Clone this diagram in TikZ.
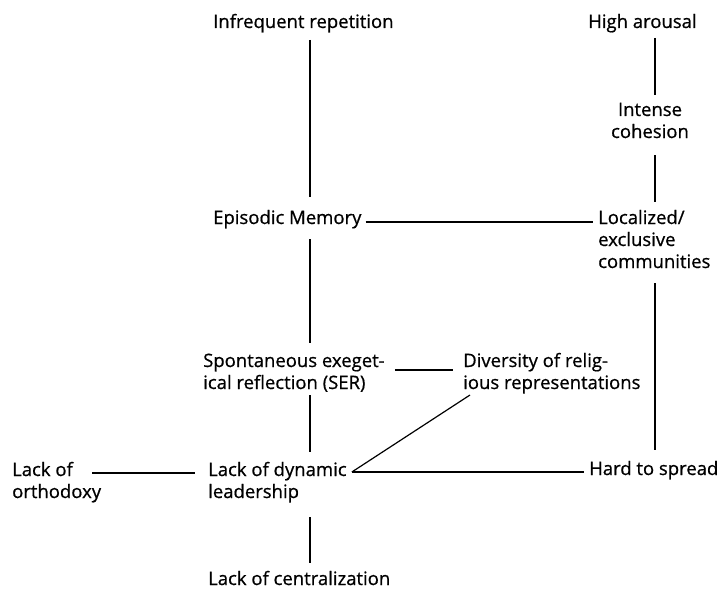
\documentclass[tikz,border=0pt]{standalone}
\usepackage{fontspec}
\setmainfont{Open Sans}[FakeBold=0.7]
\begin{document}
\begin{tikzpicture}[x=1pt,y=-1pt,
  lbl/.style={anchor=base west,align=left,inner sep=0pt,font=\fontsize{18.5}{22}\selectfont},
  conn/.style={line width=1.2pt,line cap=butt}]
\useasboundingbox (0,0) rectangle (719,591);
\node[lbl] (inf) at (213,28) {Infrequent repetition};
\node[lbl] (high) at (588,28) {High arousal};
\node[lbl,align=center,anchor=base] (coh) at (650,138) {Intense\\cohesion};
\node[lbl] (epi) at (213,224) {Episodic Memory};
\node[lbl] (loc) at (598,268) {Localized/\\exclusive\\communities};
\node[lbl] (ser) at (203,389) {Spontaneous exeget-\\ical reflection (SER)};
\node[lbl] (div) at (463,389) {Diversity of relig-\\ious representations};
\node[lbl] (orth) at (12,498) {Lack of\\orthodoxy};
\node[lbl] (lead) at (208,498) {Lack of dynamic\\leadership};
\node[lbl] (hard) at (589,475) {Hard to spread};
\node[lbl] (cent) at (208,585) {Lack of centralization};
\coordinate (lx) at (310,0);
\coordinate (rx) at (655,0);
% left column
\draw[conn,shorten <=12pt,shorten >=27pt] (lx |- inf.base) -- (lx |- epi.base);
\draw[conn,shorten <=15pt,shorten >=46pt] (lx |- epi.base) -- (lx |- ser.base);
\draw[conn,shorten <=6pt,shorten >=46pt] (lx |- ser.base) -- (lx |- lead.base);
\draw[conn,shorten <=19pt,shorten >=22pt] (lx |- lead.base) -- (lx |- cent.base);
% right column
\draw[conn,shorten <=10pt,shorten >=43pt] (rx |- high.base) -- (rx |- coh.base);
\draw[conn,shorten <=17pt,shorten >=66pt] (rx |- coh.base) -- (rx |- loc.base);
\draw[conn,shorten <=15pt,shorten >=25pt] (rx |- loc.base) -- (rx |- hard.base);
% horizontals
\draw[conn,shorten <=4pt,shorten >=5pt] ([shift={(0,-2)}]epi.base east) -- ([shift={(0,-2)}]loc.west |- epi.base);
\draw[conn,shorten <=10pt,shorten >=10pt] ([shift={(0,-19)}]ser.base east) -- ([shift={(0,-19)}]div.base west);
\draw[conn] ([shift={(80,-25)}]orth.base west) -- ([shift={(-13,-25)}]lead.base west);
\draw[conn] ([shift={(5,-26)}]lead.base east) coordinate (lj) -- ([shift={(-5,-3)}]hard.base west);
\draw[conn] (lj) -- ([shift={(7,6)}]div.base west);
\end{tikzpicture}
\end{document}
